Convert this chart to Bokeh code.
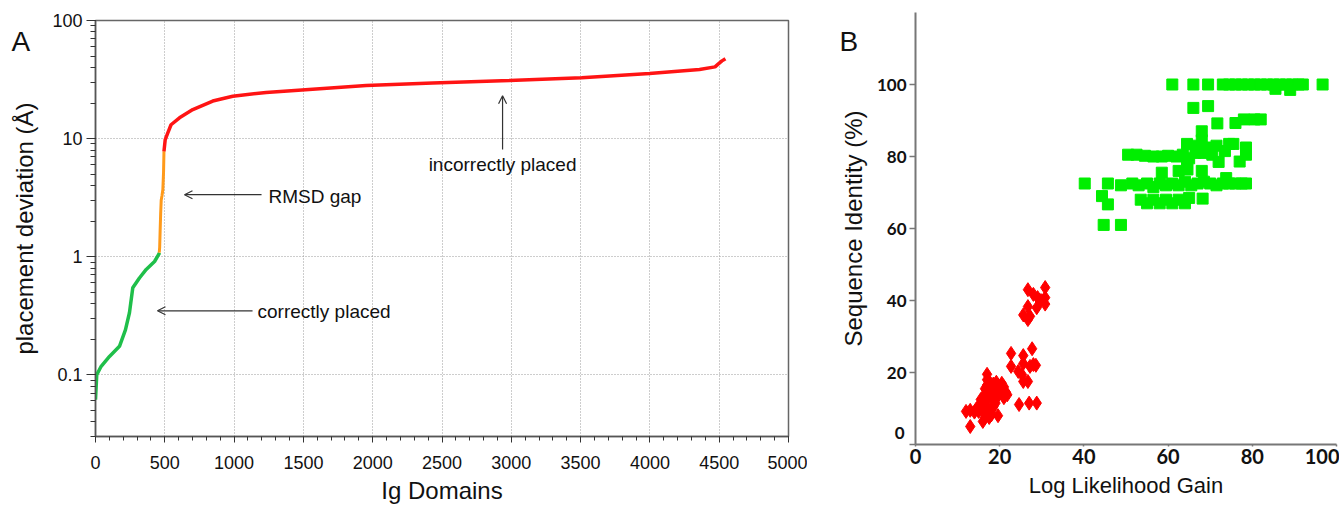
from bokeh.plotting import figure
from bokeh.layouts import row, column
from bokeh.models import (Range1d, LogTicker, FixedTicker, SingleIntervalTicker,
                          CustomJSTickFormatter, Arrow, OpenHead, Label)
from bokeh.embed import file_html
from bokeh.resources import INLINE

# ---------------- Panel A data ----------------
green_x = [0, 9, 41, 101, 173, 216, 245, 269, 317, 366, 426, 457, 462]
green_y = [0.0616, 0.10, 0.118, 0.143, 0.174, 0.24, 0.335, 0.545, 0.66, 0.78, 0.91, 1.05, 1.08]

orange_x = [460, 463, 466, 470, 474, 480, 486, 491, 494]
orange_y = [1.08, 1.2, 1.6, 2.3, 3.0, 3.3, 3.7, 5.2, 7.8]

red_x = [494, 503, 521, 545, 606, 702, 846, 990, 1231, 1592, 1953, 2433, 2987,
         3507, 3997, 4358, 4470, 4490, 4505, 4520, 4545]
red_y = [7.8, 9.8, 11.1, 13.1, 15.0, 17.6, 20.8, 22.8, 24.6, 26.3, 28.1, 29.6, 31.0,
         32.8, 35.5, 38.5, 40.5, 42.5, 44.0, 45.5, 47.5]

# ---------------- Panel B data ----------------
green_pts_x = [61, 66, 69.5, 73, 74.5, 76, 77.5, 79, 80.5, 82, 83.5, 85, 86.5, 88, 89.5, 91, 92, 96.7, 85.5, 89,
               66, 69.5,
               71.7, 76, 78, 80.5, 82,
               68,
               50.5, 52.5, 54.5, 56.5, 58.5, 60,
               62, 63.5, 64.5, 65, 64.5, 66.5, 67, 68, 68.5, 69.5, 70.5, 71.5, 72, 73.5, 74.5, 75.5, 77, 78.5, 78.5,
               40.2, 45.7, 48.8, 51.5, 53, 55, 56.5, 58, 59.5, 61, 62.5, 64, 65.5, 67, 68.5, 70, 71.5, 73, 74.5, 76, 77.5, 78.5,
               58.5, 62.5, 64.6, 68, 73.8,
               44.3, 45.7, 53.5, 55, 56.5, 58, 59.5, 61, 62.5, 64, 65, 68.2,
               44.7, 48.8]
green_pts_y = [100, 100, 100, 100, 100, 100, 100, 100, 100, 100, 100, 100, 100, 100, 100, 100, 100, 100, 98.8, 98.5,
               93.5, 94,
               89.2, 89.3, 90.3, 90.3, 90.3,
               87,
               80.5, 80.5, 80.2, 80, 80, 80.2,
               80, 80.5, 83.5, 79.5, 78, 81, 83, 84.5, 81, 82.5, 80.5, 83, 78.5, 81.5, 83.5, 83.5, 78.6, 82.5, 80.5,
               72.5, 72.5, 72, 72.5, 72, 72.5, 71.5, 72.5, 72, 72.5, 72, 73, 72, 72.5, 73, 72.5, 72, 72.5, 72.5, 72.5, 72.5, 72.5,
               75.5, 76, 76.4, 76, 74,
               69, 66.7, 68, 67, 68, 67, 68, 67, 68, 67, 68.5, 68.3,
               61, 61]

red_pts_x = [30.8, 26.7, 28, 29, 30.8, 30.8, 28.8, 26.7, 25.6, 27.2, 26.7, 29.8,
             22.7, 22.7, 27.7, 25.6, 25.6, 24.4, 25.3, 25.6, 26.7, 27.2, 28, 28.6, 24.6, 27, 28.8,
             12.0, 13.0, 14.0, 14.5, 15.0, 16.0, 13.0, 16.0, 16.5, 17.5, 18.0, 19.6, 17.0, 18.5, 19.0,
             17.0, 18.0, 19.0, 16.5, 16.5, 17.0, 17.0, 17.0, 17.5, 18.0, 19.0, 19.5, 20.0, 20.5, 21.0,
             21.5, 21.0, 21.8, 16.0, 15.5, 18.5, 20.0, 17.8, 18.5, 19.2, 17.0, 18.0, 15.0]
red_pts_y = [43.6, 43, 41.7, 40.8, 40.8, 39, 38, 38.3, 36, 35.6, 34.7, 40,
             25.3, 21.7, 26.6, 24.7, 22.5, 20.3, 19.4, 17.5, 17.5, 21.7, 22.2, 22, 11.1, 11.5, 11.5,
             9.2, 9.5, 9.0, 10.0, 9.2, 9.5, 5.0, 6.4, 7.5, 7.5, 8.2, 8.0, 10.5, 10.5, 11.5,
             12.5, 13.0, 12.5, 14.0, 15.5, 16.5, 18.0, 19.5, 15.0, 15.5, 15.0, 16.5, 15.5, 17.0, 16.0,
             14.5, 13.0, 13.8, 11.0, 12.5, 14.0, 14.5, 17.0, 16.8, 17.3, 8.5, 9.5, 10.5]

b_ticks = [0, 20, 40, 60, 80, 100]

FONT = "Liberation Sans"

# ---------------- Panel A ----------------
pa = figure(width=807, height=506, x_range=Range1d(0, 5000), y_range=Range1d(0.03, 100),
            y_axis_type="log", output_backend="svg", toolbar_location=None,
            min_border_left=95, min_border_top=20, min_border_right=19, min_border_bottom=70)
pa.outline_line_color = "#666666"
pa.outline_line_width = 1.5

pa.xaxis.ticker = SingleIntervalTicker(interval=500, num_minor_ticks=5)
pa.yaxis.ticker = LogTicker(num_minor_ticks=10)
pa.yaxis.formatter = CustomJSTickFormatter(code="return String(Number(tick.toPrecision(3)));")

for ax in (pa.xaxis, pa.yaxis):
    ax.axis_line_color = "#555555"
    ax.axis_line_width = 1.5
    ax.major_tick_line_color = "#333333"
    ax.minor_tick_line_color = "#333333"
    ax.major_tick_in = 0
    ax.minor_tick_in = 0
    ax.major_label_text_font = FONT
    ax.major_label_text_font_size = "18px"
    ax.major_label_text_color = "#111111"
    ax.axis_label_text_font = FONT
    ax.axis_label_text_font_size = "24px"
    ax.axis_label_text_font_style = "normal"
    ax.axis_label_text_color = "#111111"

pa.xaxis.major_tick_out = 6
pa.xaxis.minor_tick_out = 4
pa.yaxis.major_tick_out = 9
pa.yaxis.minor_tick_out = 5
pa.xaxis.major_label_standoff = 13
pa.yaxis.major_label_standoff = 4
pa.xaxis.axis_label = "Ig Domains"
pa.yaxis.axis_label = "placement deviation (Å)"
pa.xaxis.axis_label_standoff = 5
pa.yaxis.axis_label_standoff = 11

pa.xgrid.grid_line_color = "#9a9a9a"
pa.xgrid.grid_line_dash = "1 2"
pa.ygrid.grid_line_color = "#9a9a9a"
pa.ygrid.grid_line_dash = "1 2"

pa.line(green_x, green_y, line_color="#1fbf4a", line_width=3.5)
pa.line(orange_x, orange_y, line_color="#ff9a1a", line_width=3)
pa.line(red_x, red_y, line_color="#ff1414", line_width=3.5)

ARROW_C = "#333333"
pa.add_layout(Arrow(end=OpenHead(size=8, line_color=ARROW_C, line_width=1.2),
                    x_start=1198, y_start=3.35, x_end=642, y_end=3.35,
                    line_color=ARROW_C, line_width=1.2))
pa.add_layout(Arrow(end=OpenHead(size=8, line_color=ARROW_C, line_width=1.2),
                    x_start=1133, y_start=0.348, x_end=447, y_end=0.348,
                    line_color=ARROW_C, line_width=1.2))
pa.add_layout(Arrow(end=OpenHead(size=8, line_color=ARROW_C, line_width=1.2),
                    x_start=2937, y_start=8.07, x_end=2937, y_end=23.1,
                    line_color=ARROW_C, line_width=1.2))

def lbl(fig, x, y, text, align="left", size="19px", baseline="middle"):
    fig.add_layout(Label(x=x, y=y, text=text, text_align=align, text_baseline=baseline,
                         text_font=FONT, text_font_size=size, text_color="#111111"))

lbl(pa, 1248, 3.25, "RMSD gap")
lbl(pa, 1169, 0.345, "correctly placed")
lbl(pa, 2937, 6.0, "incorrectly placed", align="center")

# panel letter in a side panel (not clipped to the frame), drawn at canvas position
pa.add_layout(Label(x=11, y=41, x_units="canvas", y_units="canvas", text="A",
                    text_align="left", text_baseline="alphabetic",
                    text_font=FONT, text_font_size="28px", text_color="#111111"), "right")

# ---------------- Panel B ----------------
pb = figure(width=532, height=506, x_range=Range1d(0, 100), y_range=Range1d(0, 120),
            output_backend="svg", toolbar_location=None,
            min_border_left=107, min_border_top=12, min_border_right=3, min_border_bottom=62)
pb.outline_line_color = None
pb.grid.visible = False

pb.xaxis.ticker = FixedTicker(ticks=b_ticks)
pb.yaxis.ticker = FixedTicker(ticks=b_ticks)
pb.yaxis.major_label_overrides = {0: ""}

for ax in (pb.xaxis, pb.yaxis):
    ax.axis_line_color = "#777777"
    ax.axis_line_width = 2
    ax.major_tick_line_color = "#777777"
    ax.major_tick_line_width = 1.5
    ax.major_tick_in = 0
    ax.minor_tick_line_color = None
    ax.major_label_text_font = "Lato"
    ax.major_label_text_font_style = "bold"
    ax.major_label_text_color = "#111111"
    ax.axis_label_text_font = FONT
    ax.axis_label_text_font_style = "normal"
    ax.axis_label_text_color = "#111111"

pb.xaxis.major_tick_out = 2
pb.yaxis.major_tick_out = 6
pb.xaxis.major_label_text_font_size = "20px"
pb.yaxis.major_label_text_font_size = "17px"
pb.xaxis.major_label_standoff = 2
pb.yaxis.major_label_standoff = 3
pb.xaxis.axis_label = "Log Likelihood Gain"
pb.yaxis.axis_label = "Sequence Identity (%)"
pb.xaxis.axis_label_text_font_size = "22px"
pb.yaxis.axis_label_text_font_size = "24px"
pb.xaxis.axis_label_standoff = 6
pb.yaxis.axis_label_standoff = 7

pb.scatter(green_pts_x, green_pts_y, marker="square", size=11,
           fill_color="#00ee00", line_color="#00ee00")
pb.scatter(red_pts_x, red_pts_y, marker="diamond", size=14,
           fill_color="#ff0000", line_color="#ff0000")

pb.add_layout(Label(x=97, y=432, x_units="canvas", y_units="canvas", text="0",
                    text_align="right", text_baseline="middle",
                    text_font="Lato", text_font_style="bold", text_font_size="17px",
                    text_color="#111111"), "left")
pb.add_layout(Label(x=32, y=41, x_units="canvas", y_units="canvas", text="B",
                    text_align="left", text_baseline="alphabetic",
                    text_font=FONT, text_font_size="28px", text_color="#111111"), "left")

layout = row(pa, column(pb))
open("out.html", "w").write(file_html(layout, INLINE))
